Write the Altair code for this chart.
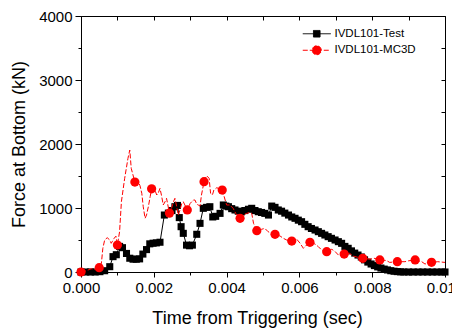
import altair as alt
import pandas as pd

# ---- data ----
test_t = [0.0, 0.00013, 0.00026, 0.00039, 0.00052, 0.00065, 0.00079, 0.00088, 0.00097, 0.00106,
          0.00114, 0.00125, 0.00134, 0.00143, 0.00152, 0.00161, 0.00170, 0.00180, 0.00189, 0.00198,
          0.00207, 0.00217, 0.00229, 0.00240, 0.00250, 0.00258, 0.00265, 0.00270, 0.00275, 0.00281,
          0.00290, 0.00298, 0.00306, 0.00318, 0.00327, 0.00336, 0.00345, 0.00354, 0.00362, 0.00370,
          0.00382, 0.00391, 0.00398, 0.00405, 0.00414, 0.00423, 0.00432, 0.00441, 0.00450, 0.00460,
          0.00469, 0.00478, 0.00487, 0.00496, 0.00505, 0.00515, 0.00524, 0.00533, 0.00542, 0.00551,
          0.00560, 0.00570, 0.00579, 0.00588, 0.00597, 0.00606, 0.00615, 0.00624, 0.00633, 0.00643,
          0.00652, 0.00661, 0.00670, 0.00679, 0.00688, 0.00698, 0.00707, 0.00716, 0.00725, 0.00734,
          0.00743, 0.00752, 0.00761, 0.00770, 0.00779, 0.00788, 0.00797, 0.00806, 0.00815, 0.00824,
          0.00833, 0.00842, 0.00851, 0.00860, 0.00869, 0.00878, 0.00887, 0.00900, 0.00913, 0.00926,
          0.00939, 0.00952, 0.00965, 0.00978, 0.00991, 0.01000]
test_f = [0, 0, 0, 0, 5, 20, 83, 240, 270, 400,
          380, 290, 215, 200, 200, 205, 280, 350, 440, 450,
          455, 465, 890, 920, 960, 1020, 1040, 850, 708, 604,
          420, 410, 420, 589, 760, 995, 1010, 1020, 860, 870,
          916, 1047, 1030, 1020, 990, 969, 950, 940, 960, 980,
          995, 960, 942, 930, 916, 890, 1030, 1010, 969, 950,
          920, 890, 860, 839, 810, 786, 745, 708, 680, 656,
          630, 604, 578, 552, 526, 500, 474, 448, 400, 370,
          330, 295, 265, 235, 190, 155, 125, 100, 80, 62,
          45, 32, 20, 12, 6, 2, 0, 0, 0, 0,
          0, 0, 0, 0, 0, 0]

mc3d_t = [0.0, 0.00010, 0.00019, 0.00028, 0.00037, 0.00045, 0.00050, 0.00056, 0.00060, 0.00065,
          0.00072, 0.00079, 0.00083, 0.00091, 0.00096, 0.00100, 0.00106, 0.00111, 0.00120, 0.00129,
          0.00134, 0.00138, 0.00148, 0.00157, 0.00162, 0.00167, 0.00171, 0.00176, 0.00180, 0.00185,
          0.00190, 0.00194, 0.00203, 0.00208, 0.00212, 0.00217, 0.00221, 0.00226, 0.00231, 0.00235,
          0.00243, 0.00249, 0.00254, 0.00258, 0.00263, 0.00267, 0.00272, 0.00277, 0.00281, 0.00292,
          0.00300, 0.00309, 0.00313, 0.00318, 0.00322, 0.00327, 0.00331, 0.00338, 0.00345, 0.00352,
          0.00356, 0.00361, 0.00365, 0.00373, 0.00380, 0.00388, 0.00396, 0.00400, 0.00409, 0.00418,
          0.00425, 0.00432, 0.00437, 0.00441, 0.00446, 0.00455, 0.00464, 0.00469, 0.00474, 0.00483,
          0.00496, 0.00505, 0.00514, 0.00524, 0.00533, 0.00547, 0.00556, 0.00565, 0.00579, 0.00593,
          0.00602, 0.00611, 0.00620, 0.00629, 0.00643, 0.00652, 0.00661, 0.00675, 0.00689, 0.00698,
          0.00707, 0.00723, 0.00738, 0.00747, 0.00760, 0.00774, 0.00795, 0.00805, 0.00821, 0.00839,
          0.00848, 0.00869, 0.00890, 0.00900, 0.00918, 0.00936, 0.00945, 0.00963, 0.00980, 0.01000]
mc3d_f = [0, 10, 31, 50, 40, 55, 67, 136, 370, 500,
          536, 500, 448, 526, 560, 422, 630, 1098, 1464, 1776,
          1906, 1620, 1405, 1411, 1350, 1230, 1020, 839, 890, 1020,
          1177, 1300, 1281, 1203, 1230, 1307, 1200, 1047, 1098, 1151,
          920, 1000, 1098, 1151, 1020, 890, 969, 1073, 1098, 969,
          1073, 1125, 1125, 1060, 1047, 1030, 1203, 1411, 1505, 1464,
          1230, 1203, 1281, 1317, 1300, 1281, 1125, 1047, 1047, 995,
          916, 870, 839, 780, 890, 916, 930, 916, 760, 646,
          667, 682, 630, 600, 589, 562, 526, 500, 484, 510,
          448, 370, 422, 464, 437, 396, 344, 318, 355, 320,
          266, 281, 292, 250, 230, 214, 200, 215, 188, 180,
          150, 161, 161, 175, 188, 161, 125, 151, 161, 150]

mc3d_marker_t = [0.0, 0.00050, 0.00100, 0.00148, 0.00194, 0.00243, 0.00292, 0.00338, 0.00388, 0.00437,
                 0.00483, 0.00533, 0.00579, 0.00629, 0.00675, 0.00723, 0.00774, 0.00821, 0.00869,
                 0.00918, 0.00963]
mc3d_marker_f = [0, 67, 422, 1405, 1300, 920, 969, 1411, 1281, 839,
                 646, 589, 484, 464, 318, 281, 214, 188, 161,
                 188, 151]

series_names = ["IVDL101-Test", "IVDL101-MC3D"]
series_colors = ["#000000", "#ff0000"]
x_ticks = [0.0, 0.001, 0.002, 0.003, 0.004, 0.005, 0.006, 0.007, 0.008, 0.009, 0.010]
y_ticks = [0, 500, 1000, 1500, 2000, 2500, 3000, 3500, 4000]

FONT = "Liberation Sans"

df_test = pd.DataFrame({"t": test_t, "f": test_f})
df_mc = pd.DataFrame({"t": mc3d_t, "f": mc3d_f})
df_mc_m = pd.DataFrame({"t": mc3d_marker_t, "f": mc3d_marker_f})
# legend-only layer: positioned outside the domain and clipped away
df_leg = pd.DataFrame({"series": series_names, "t": [-1.0, -1.0], "f": [-1.0, -1.0]})

xscale = alt.Scale(domain=[0, 0.01], nice=False, zero=False)
yscale = alt.Scale(domain=[0, 4000], nice=False)

x_axis = alt.Axis(
    values=x_ticks, orient="bottom", grid=False,
    labelExpr="round(datum.value*1000) % 2 === 0 ? format(datum.value, '.3f') : ''",
    tickSize={"condition": {"test": "round(datum.value*1000) % 2 === 0", "value": 5}, "value": 3},
    tickColor="black", domainColor="black", labelColor="black", titleColor="black",
    labelFont=FONT, labelFontSize=15, titleFont=FONT, titleFontSize=18, titleFontWeight="normal",
    labelPadding=3, titlePadding=14, titleX=176, labelFlush=False, labelOverlap=False,
    title="Time from Triggering (sec)",
)
y_axis = alt.Axis(
    values=y_ticks, orient="left", grid=False,
    labelExpr="datum.value % 1000 === 0 ? format(datum.value, 'd') : ''",
    tickSize={"condition": {"test": "datum.value % 1000 === 0", "value": 6}, "value": 3},
    tickColor="black", domainColor="black", labelColor="black", titleColor="black",
    labelFont=FONT, labelFontSize=15, titleFont=FONT, titleFontSize=18, titleFontWeight="normal",
    labelPadding=3, titlePadding=10, labelFlush=False, labelOverlap=False,
    title="Force at Bottom (kN)",
)
top_axis = alt.Axis(values=x_ticks, orient="top", grid=False, labels=False, domain=False,
                    tickSize=4, offset=-4, tickColor="black", title=None)
right_axis = alt.Axis(values=y_ticks, orient="right", grid=False, labels=False, domain=False,
                      tickSize=4, offset=-4, tickColor="black", title=None)

sq_path = "M-2.8,0H2.8M-0.66,-0.66H0.66V0.66H-0.66Z"
ci_path = "M-2.8,0H2.8M-0.9,0A0.9,0.9 0 1,0 0.9,0A0.9,0.9 0 1,0 -0.9,0Z"

legend = alt.Legend(
    title=None, orient="none", legendX=230, legendY=12, padding=0,
    symbolSize=100, symbolStrokeWidth=1, labelOffset=12, rowPadding=3.5,
    labelFont=FONT, labelFontSize=11.5, labelColor="black",
)

test_line = alt.Chart(df_test).mark_line(strokeWidth=1, color="#000000").encode(
    x=alt.X("t:Q", scale=xscale, axis=x_axis),
    y=alt.Y("f:Q", scale=yscale, axis=y_axis),
)
test_pts = alt.Chart(df_test).mark_square(size=50, color="#000000", opacity=1).encode(
    x=alt.X("t:Q", scale=xscale, axis=top_axis),
    y=alt.Y("f:Q", scale=yscale, axis=right_axis),
)
mc_line = alt.Chart(df_mc).mark_line(strokeWidth=1, color="#ff0000", strokeDash=[5, 2]).encode(
    x=alt.X("t:Q", scale=xscale, axis=None),
    y=alt.Y("f:Q", scale=yscale, axis=None),
)
mc_pts = alt.Chart(df_mc_m).mark_circle(size=85, color="#ff0000", opacity=1).encode(
    x=alt.X("t:Q", scale=xscale, axis=None),
    y=alt.Y("f:Q", scale=yscale, axis=None),
)
leg_layer = alt.Chart(df_leg).mark_point(size=100, filled=True, opacity=1, clip=True,
                                         strokeWidth=1).encode(
    x=alt.X("t:Q", scale=xscale, axis=None),
    y=alt.Y("f:Q", scale=yscale, axis=None),
    shape=alt.Shape("series:N", scale=alt.Scale(domain=series_names, range=[sq_path, ci_path]),
                    legend=legend),
    fill=alt.Fill("series:N", scale=alt.Scale(domain=series_names, range=series_colors),
                  legend=legend),
    stroke=alt.Stroke("series:N", scale=alt.Scale(domain=series_names, range=series_colors),
                      legend=legend),
    strokeDash=alt.StrokeDash("series:N", scale=alt.Scale(domain=series_names, range=[[1, 0], [5, 2]]),
                              legend=legend),
)

chart = alt.layer(test_line, test_pts, mc_line, mc_pts, leg_layer).resolve_axis(
    x="independent", y="independent"
).properties(
    width=364, height=256,
    autosize=alt.AutoSizeParams(type="none"),
    padding={"left": 81, "top": 16, "right": 7, "bottom": 59},
    background="white",
).configure_view(stroke="black", strokeWidth=1)

chart.save("out.html", embed_options={"renderer": "svg", "actions": False})
